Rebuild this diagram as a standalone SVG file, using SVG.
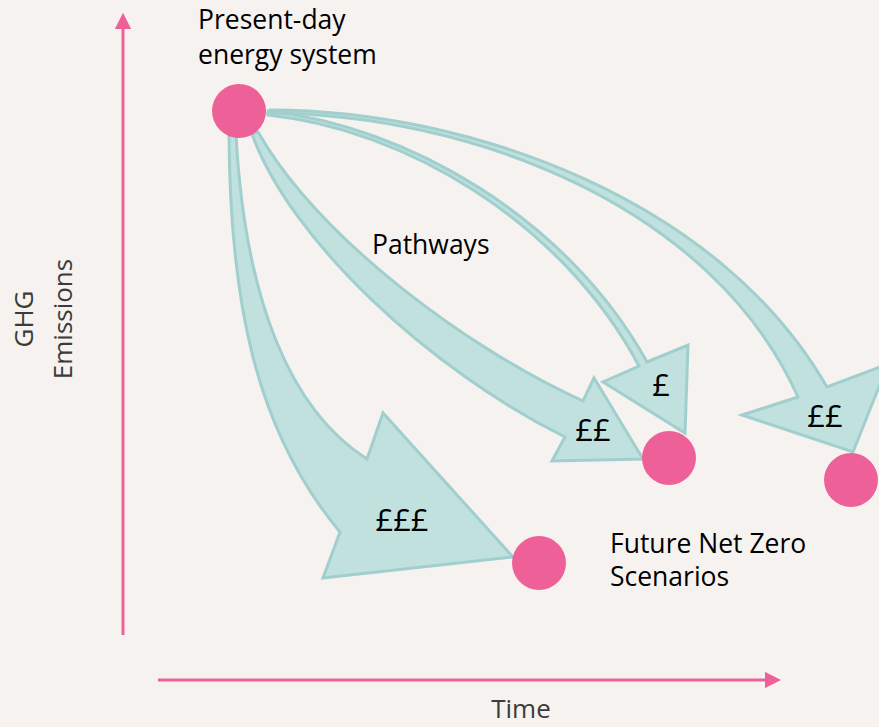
<svg xmlns="http://www.w3.org/2000/svg" width="879" height="727" viewBox="0 0 879 727">
<style>
.bg{fill:#F6F2EF}
.arrow{fill:#C1E1DF;stroke:#A1CFCD;stroke-width:3;stroke-linejoin:miter}
.node{fill:#EE6098}
.axis{stroke:#EE6098;stroke-width:3;fill:none}
.lbl{font-family:"Open Sans","Noto Sans",sans-serif;font-size:26.5px;fill:#000}
.ax{font-family:"Open Sans","Noto Sans",sans-serif;font-size:26px;fill:#3B3B3B}
.cost{font-family:"Open Sans","Noto Sans",sans-serif;font-size:31px;fill:#000;text-anchor:middle}
</style>
<defs>
<marker id="ah" viewBox="0 0 10 10" refX="2" refY="5" markerWidth="5.5" markerHeight="5.5" orient="auto" markerUnits="strokeWidth">
<path d="M0,0 L10,5 L0,10 Z" fill="#EE6098"/>
</marker>
</defs>
<rect class="bg" width="879" height="727"/>
<g id="axes">
<line class="axis" x1="123" y1="635" x2="123" y2="26" marker-end="url(#ah)"/>
<line class="axis" x1="158" y1="680" x2="768" y2="680" marker-end="url(#ah)"/>
<text class="ax" transform="translate(33,319) rotate(-90)" text-anchor="middle" font-size="28">GHG</text>
<text class="ax" transform="translate(72,319) rotate(-90)" text-anchor="middle">Emissions</text>
<text class="ax" x="521" y="718" text-anchor="middle" font-size="27">Time</text>
</g>
<g id="connectors">
<path id="p-fff" class="arrow" d="M229,135 C230,300 255,430 340,532 L323,578 L513,557 L383,413 L367,459 C290,410 245,300 236,135 Z"/>
<path id="p-ff1" class="arrow" d="M252,134 C290,240 430,370 565,437 L552,461 L643,459 L594,378 L583,401 C470,350 320,240 258,132 Z"/>
<path id="p-f" class="arrow" d="M268,111 C405,126 566,216 647,362 L688,345 L685,433 L603,382 L639,366 C561,220 403,129 268,115 Z"/>
<path id="p-ff2" class="arrow" d="M270,110 C470,110 720,200 827,387 L888,364 L853,452 L742,415 L798,397 C712,205 470,114 268,113 Z"/>
<text class="cost" x="402" y="531">£££</text>
<text class="cost" x="593" y="441">££</text>
<text class="cost" x="661" y="396">£</text>
<text class="cost" x="825" y="427">££</text>
<text class="lbl" x="372" y="254">Pathways</text>
</g>
<g id="present">
<circle class="node" cx="239" cy="111" r="27"/>
<text class="lbl" x="198" y="29">Present-day</text>
<text class="lbl" x="198" y="64">energy system</text>
</g>
<g id="scenario-fff">
<circle class="node" cx="539" cy="563" r="27"/>
</g>
<g id="scenario-ff1">
<circle class="node" cx="669" cy="458" r="27"/>
</g>
<g id="scenario-ff2">
<circle class="node" cx="851" cy="480" r="27"/>
</g>
<g id="future-label">
<text class="lbl" x="610" y="553">Future Net Zero</text>
<text class="lbl" x="610" y="586">Scenarios</text>
</g>
</svg>
